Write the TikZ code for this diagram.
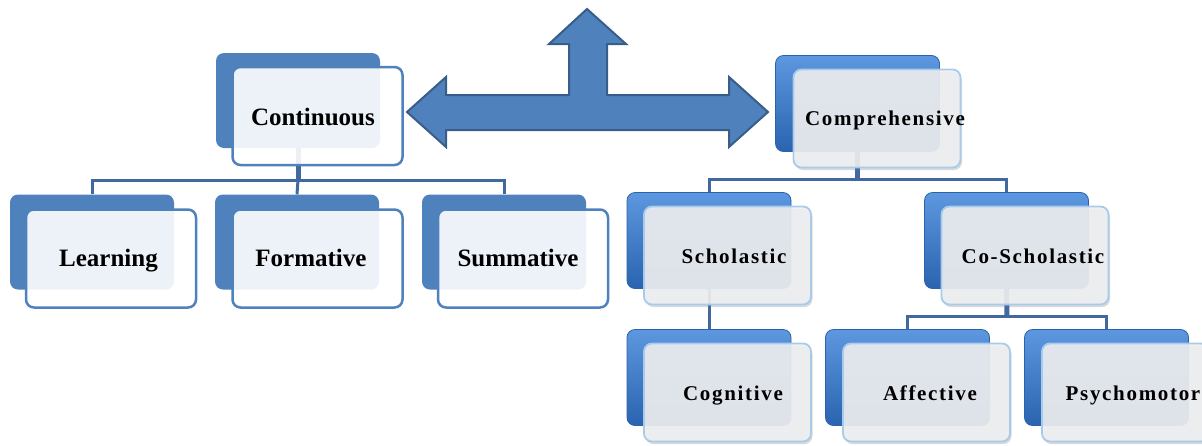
\documentclass[tikz,border=0pt]{standalone}
\usepackage{fontspec}
\setmainfont{Liberation Serif}
\newfontfamily\spacedfont[LetterSpace=8]{Liberation Serif}
\usetikzlibrary{shadows}
\definecolor{blueA}{HTML}{4F81BD}
\definecolor{blueEdge}{HTML}{385D8A}
\definecolor{connC}{HTML}{41699F}
\definecolor{backTop}{HTML}{5C97DF}
\definecolor{backBot}{HTML}{2A64B0}
\definecolor{backEdge}{HTML}{2C63A8}
\definecolor{frontR}{HTML}{EFF0F2}
\definecolor{frontEdge}{HTML}{A9CBEB}
\tikzset{
  backL/.style={rectangle, rounded corners=8pt, fill=blueA, inner sep=0pt,
    minimum width=164pt, minimum height=95pt},
  frontL/.style={rectangle, rounded corners=8pt, draw=blueA, line width=2.5pt,
    fill=white, fill opacity=0.9, inner sep=0pt,
    minimum width=170pt, minimum height=98pt},
  lblL/.style={font=\bfseries\fontsize{25}{30}\selectfont, inner sep=0pt, anchor=base},
  backR/.style={rectangle, rounded corners=8pt, top color=backTop, bottom color=backBot,
    draw=backEdge, line width=0.8pt, inner sep=0pt,
    minimum width=164pt, minimum height=96pt},
  frontRbox/.style={rectangle, rounded corners=8pt, fill=frontR, fill opacity=0.9,
    draw=frontEdge, line width=1.8pt, inner sep=0pt,
    drop shadow={shadow xshift=1.5pt, shadow yshift=-2.5pt, opacity=0.3},
    minimum width=167pt, minimum height=98pt},
  lblR/.style={font={\spacedfont\bfseries\fontsize{21}{25}\selectfont}, inner sep=0pt, anchor=base},
  conn/.style={draw=connC, line width=3pt},
  stem/.style={draw=connC, line width=5pt},
  bigarrow/.style={fill=blueA, draw=blueEdge, line width=2pt, line join=miter}
}
\begin{document}
\begin{tikzpicture}[x=1pt,y=-1pt]
\useasboundingbox (0,0) rectangle (1202,445);
\clip (0,0) rectangle (1202,445);

\coordinate (busL) at (298,180);
\coordinate (busR) at (857.5,179);
\coordinate (busC) at (1007,316);

% back rectangles (left)
\node[backL] (cB) at (298,100.5) {};
\node[backL] (lB) at (92,242) {};
\node[backL] (fB) at (297,242) {};
\node[backL] (sB) at (504,242) {};

% connectors left
\draw[stem] (cB.south) -- (busL);
\draw[conn] (lB.north) |- (busL) -| (sB.north);
\draw[conn] (busL) -- (fB.north);

% front boxes (left)
\node[frontL] (cF) at (317.5,116) {};
\node[frontL] (lF) at (111,258.5) {};
\node[frontL] (fF) at (317.5,258.5) {};
\node[frontL] (sF) at (523,258.5) {};

\node[lblL] (tCont) at (313,125) {Continuous};
\node[lblL] (tLearn) at (108.5,266) {Learning};
\node[lblL] (tForm) at (311,266) {Formative};
\node[lblL] (tSumm) at (518,266) {Summative};

% ---------- big arrow ----------
\draw[bigarrow] (407,112) -- (446,77) -- (446,95) -- (569,95) -- (569,44) -- (549,44)
  -- (587,9) -- (626,44) -- (607,44) -- (607,95) -- (729,95) -- (729,77) -- (768,112)
  -- (729,147) -- (729,130) -- (446,130) -- (446,147) -- cycle;

% ---------- right tree ----------
\node[backR] (compB) at (857.5,103.5) {};
\node[backR] (schB) at (709,240.5) {};
\node[backR] (coB) at (1006.5,240.5) {};
\node[backR] (cogB) at (709,377.5) {};
\node[backR] (affB) at (907.5,377.5) {};
\node[backR] (psyB) at (1106.5,377.5) {};

\draw[stem] (compB.south) -- (busR);
\draw[conn] (schB.north) |- (busR) -| (coB.north);
\draw[conn] (schB.south) -- (cogB.north);
\draw[stem] (coB.south) -- (busC);
\draw[conn] (affB.north) |- (busC) -| (psyB.north);

\node[frontRbox] (compF) at (877,118.5) {};
\node[frontRbox] (schF) at (727.5,255.5) {};
\node[frontRbox] (coF) at (1025,255.5) {};
\node[frontRbox] (cogF) at (727.5,392.5) {};
\node[frontRbox] (affF) at (926.5,392.5) {};
\node[frontRbox] (psyF) at (1125.5,392.5) {};

\node[lblR] (tComp) at (885,125) {Comprehensive};
\node[lblR] (tSch) at (734,263) {Scholastic};
\node[lblR] (tCo) at (1033,263) {Co-Scholastic};
\node[lblR] (tCog) at (733,400) {Cognitive};
\node[lblR] (tAff) at (930,400) {Affective};
\node[lblR] (tPsy) at (1133,400) {Psychomotor};
\end{tikzpicture}
\end{document}
